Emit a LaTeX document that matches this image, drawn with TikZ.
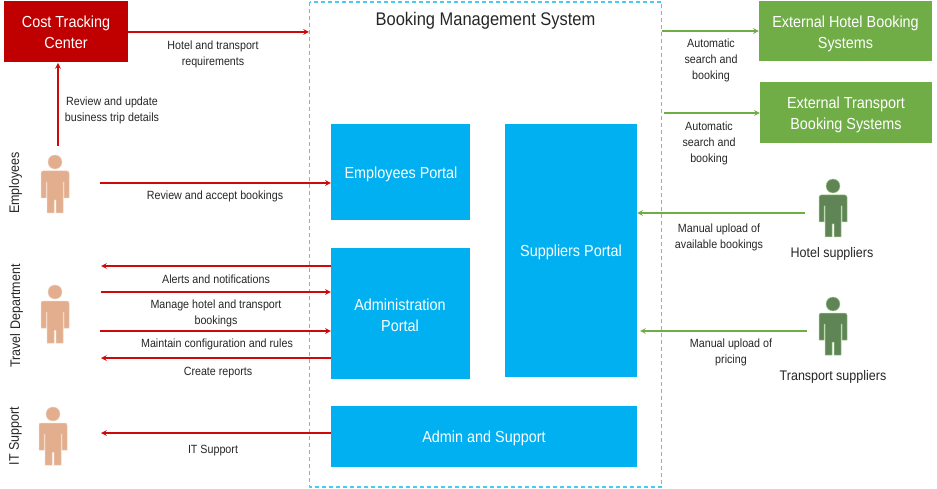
\documentclass[tikz,border=0pt]{standalone}
\usepackage{fontspec}
\setmainfont[FakeStretch=0.9]{Liberation Sans}
\definecolor{cred}{HTML}{C00000}
\definecolor{cline}{HTML}{CC0A0A}
\definecolor{cblue}{HTML}{00B0F0}
\definecolor{cdash}{HTML}{4CC8F4}
\definecolor{cgreen}{HTML}{70AD47}
\definecolor{cdark}{HTML}{5F8557}
\definecolor{cskin}{HTML}{E2AE8E}
\definecolor{ctext}{HTML}{262626}
\begin{document}
\begin{tikzpicture}[x=1pt,y=-1pt,line join=round,>=stealth,
	boxtext/.style={text=white,font=\fontsize{16}{21}\selectfont,align=center,inner sep=0},
	lab/.style={text=ctext,font=\fontsize{11.9}{16}\selectfont,align=center,inner sep=0},
	who/.style={text=ctext,font=\fontsize{13.9}{16}\selectfont,inner sep=0},
	redline/.style={->,cline,line width=1.5},
	greenline/.style={->,cgreen,line width=1.5}]
	\useasboundingbox (0,0) rectangle (937,489);
	\draw[cdash,dash pattern=on 4 off 3,line width=1.2] (309.5,2) rectangle (661.5,487);
	\coordinate (syswest) at (309,32);
	\coordinate (syseast) at (662,32);
	% boxes
	\node[fill=cred,minimum width=124,minimum height=61,inner sep=0] (costbox) at (66,31.5) {};
	\node[fill=cgreen,minimum width=173,minimum height=60,inner sep=0] (hotelbox) at (845.5,31) {};
	\node[fill=cgreen,minimum width=172,minimum height=61,inner sep=0] (transportbox) at (846,112.5) {};
	\node[fill=cblue,minimum width=139,minimum height=96,inner sep=0] (employeesportal) at (400.5,172) {};
	\node[fill=cblue,minimum width=132,minimum height=253,inner sep=0] (suppliersportal) at (571,250.5) {};
	\node[fill=cblue,minimum width=139,minimum height=131,inner sep=0] (adminportal) at (400.5,313.5) {};
	\node[fill=cblue,minimum width=306,minimum height=61,inner sep=0] (supportbox) at (484,436.5) {};
	\node[boxtext] (costtext) at (66,32) {Cost Tracking\\Center};
	\node[boxtext] (hoteltext) at (845.5,34) {External Hotel Booking\\Systems};
	\node[boxtext] (transporttext) at (846,115) {External Transport\\Booking Systems};
	\node[boxtext] (employeestext) at (401,174) {Employees Portal};
	\node[boxtext] (supplierstext) at (571,252.5) {Suppliers Portal};
	\node[boxtext] (admintext) at (400,315) {Administration\\Portal};
	\node[boxtext] (supporttext) at (484,438) {Admin and Support};
	\node[text=ctext,font=\fontsize{18.3}{20}\selectfont,inner sep=0] (bookingtitle) at (485.5,20.5) {Booking Management System};
	% people
	\foreach \x/\y/\c/\e in {55/162/cskin/cskin,55/292/cskin/cskin,53/414/cskin/cskin,833/186/cdark/cgreen,833/304/cdark/cgreen}{
		\filldraw[fill=\c,draw=\e!60,line width=0.5] (\x,\y) circle (7);
		\filldraw[fill=\c,draw=\e!60,line width=0.5,rounded corners=2] ({\x-14},{\y+22}) -- ({\x-14},{\y+9}) -- ({\x+14},{\y+9}) -- ({\x+14},{\y+22}) [sharp corners] -- ({\x+14},{\y+36}) -- ({\x+9},{\y+36}) -- ({\x+9},{\y+20}) -- ({\x+8},{\y+20}) -- ({\x+8},{\y+51}) -- ({\x+1},{\y+51}) -- ({\x+1},{\y+38}) -- ({\x-1},{\y+38}) -- ({\x-1},{\y+51}) -- ({\x-8},{\y+51}) -- ({\x-8},{\y+20}) -- ({\x-9},{\y+20}) -- ({\x-9},{\y+36}) -- ({\x-14},{\y+36}) -- cycle;}
	\node[who,rotate=90] (employees) at (15.5,183) {Employees};
	\node[who,rotate=90] (travel) at (16.5,316) {Travel Department};
	\node[who,rotate=90] (itsupport) at (15.5,436) {IT Support};
	\node[who] (hotelsuppliers) at (832,253.5) {Hotel suppliers};
	\node[who] (transportsuppliers) at (833,376.5) {Transport suppliers};
	% free ends
	\coordinate (costright) at (128,32);
	\coordinate (costbottom) at (58,63);
	\coordinate (emptop) at (58,146);
	\coordinate (empright) at (100,183);
	\coordinate (alertsend) at (101,266);
	\coordinate (managestart) at (101,292);
	\coordinate (maintainstart) at (100,331);
	\coordinate (reportsend) at (101,358);
	\coordinate (itend) at (101,433);
	\coordinate (transportstart) at (664,113);
	\coordinate (hotelleft) at (805,213);
	\coordinate (transportleft) at (807,331);
	\coordinate (pricingend) at (640,331);
	% connectors
	\draw[redline] (costright) -- (syswest);
	\draw[redline] (emptop) -- (costbottom);
	\draw[redline] (empright) -- (empright -| employeesportal.west);
	\draw[redline] (alertsend -| adminportal.west) -- (alertsend);
	\draw[redline] (managestart) -- (managestart -| adminportal.west);
	\draw[redline] (maintainstart) -- (maintainstart -| adminportal.west);
	\draw[redline] (reportsend -| adminportal.west) -- (reportsend);
	\draw[redline] (itend -| supportbox.west) -- (itend);
	\draw[greenline] (syseast |- hotelbox.west) -- (hotelbox.west);
	\draw[greenline] (transportstart) -- (transportstart -| transportbox.west);
	\draw[greenline] (hotelleft) -- (hotelleft -| suppliersportal.east);
	\draw[greenline] (transportleft) -- (pricingend);
	% labels
	\node[lab] (lhotel) at (213,54.5) {Hotel and transport\\requirements};
	\node[lab] (lreview) at (112,110.5) {Review and update\\business trip details};
	\node[lab] (laccept) at (215,196.5) {Review and accept bookings};
	\node[lab] (lalerts) at (216,279.5) {Alerts and notifications};
	\node[lab] (lmanage) at (216,313.5) {Manage hotel and transport\\bookings};
	\node[lab] (lmaintain) at (217,344.5) {Maintain configuration and rules};
	\node[lab] (lcreate) at (218,372.5) {Create reports};
	\node[lab] (lit) at (213,450.5) {IT Support};
	\node[lab] (lauto) at (711,60.5) {Automatic\\search and\\booking};
	\node[lab] (lautob) at (709,143.5) {Automatic\\search and\\booking};
	\node[lab] (lupload) at (719,237.5) {Manual upload of\\available bookings};
	\node[lab] (lpricing) at (731,352.5) {Manual upload of\\pricing};
\end{tikzpicture}
\end{document}
